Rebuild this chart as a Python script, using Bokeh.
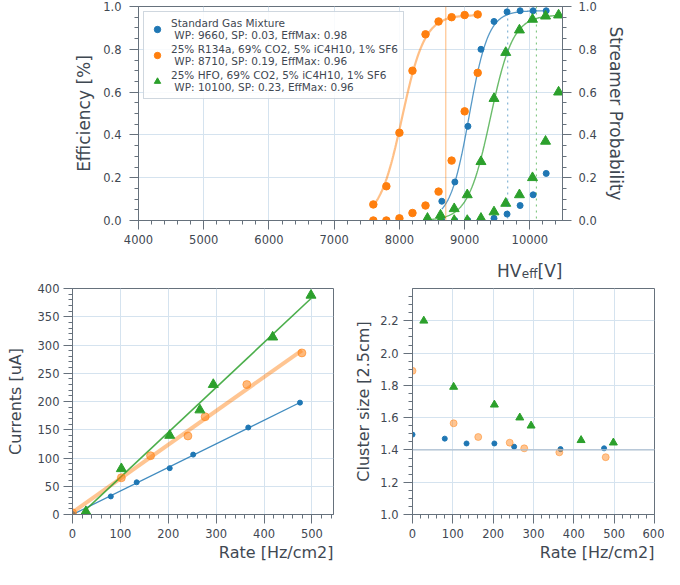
import numpy as np
from bokeh.plotting import figure
from bokeh.models import (LinearAxis, SingleIntervalTicker, NumeralTickFormatter,
                          Legend, LegendItem, Span, Label, Title)
from bokeh.layouts import column, row
from bokeh.embed import file_html
from bokeh.resources import INLINE

# ---------------- data: efficiency / streamer scans ----------------
hv_std = [8650, 8850, 9050, 9250, 9450, 9650, 9850, 10050, 10250]
eff_std = [0.09, 0.18, 0.44, 0.80, 0.93, 0.975, 0.98, 0.98, 0.98]
sp_std = [0.0, 0.0, 0.0, 0.0, 0.01, 0.03, 0.07, 0.12, 0.22]

hv_r134 = [7600, 7800, 8000, 8200, 8400, 8600, 8800, 9000, 9200]
eff_r134 = [0.075, 0.16, 0.41, 0.70, 0.87, 0.93, 0.95, 0.96, 0.963]
sp_r134 = [0.0, 0.0, 0.01, 0.035, 0.07, 0.135, 0.28, 0.51, 0.69]

hv_hfo = [8430, 8630, 8840, 9040, 9250, 9450, 9630, 9840, 10040, 10240, 10440]
eff_hfo = [0.01, 0.025, 0.055, 0.12, 0.275, 0.57, 0.785, 0.89, 0.94, 0.955, 0.96]
sp_hfo = [0.0, 0.0, 0.0, 0.0, 0.01, 0.04, 0.08, 0.12, 0.20, 0.37, 0.60]

mix_names = ["Standard Gas Mixture",
             "25% R134a, 69% CO2, 5% iC4H10, 1% SF6",
             "25% HFO, 69% CO2, 5% iC4H10, 1% SF6"]
wp_vals = [9660, 8710, 10100]
sp_at_wp = [0.03, 0.19, 0.23]
eff_max = [0.98, 0.96, 0.96]
hv50_fit = [9070, 8040, 9395]
lambda_fit = [0.0068, 0.00576, 0.0058]

# ---------------- data: rate scans ----------------
rate_std = [0, 80, 134, 203, 252, 367, 475]
cur_std = [1, 32, 57, 82, 106, 154, 198]
cs_std = [1.495, 1.47, 1.44, 1.44, 1.42, 1.405, 1.41]

rate_r134 = [0, 102, 163, 241, 277, 364, 479]
cur_r134 = [3, 65, 104, 139, 173, 230, 286]
cs_r134 = [1.89, 1.565, 1.48, 1.445, 1.41, 1.385, 1.355]

rate_hfo = [28, 102, 203, 266, 294, 418, 498]
cur_hfo = [5, 81, 140, 185, 230, 314, 388]
cs_hfo = [2.2, 1.79, 1.68, 1.6, 1.55, 1.46, 1.445]

BLUE, ORANGE, GREEN = "#1f77b4", "#ff7f0e", "#2ca02c"
FONT = "DejaVu Sans"
TXT = "#3f4852"
SPINE = "#66717c"
GRID = "#d5e3ef"


def style(p):
    p.background_fill_color = "white"
    p.border_fill_color = "white"
    p.outline_line_color = SPINE
    p.outline_line_width = 1
    p.xgrid.grid_line_color = GRID
    p.ygrid.grid_line_color = GRID
    for ax in p.axis:
        ax.axis_line_color = SPINE
        ax.major_tick_line_color = SPINE
        ax.minor_tick_line_color = SPINE
        ax.major_tick_out = 9
        ax.major_tick_in = 0
        ax.minor_tick_out = 4
        ax.minor_tick_in = 0
        ax.major_label_text_font = FONT
        ax.major_label_text_font_size = "11.5px"
        ax.major_label_text_color = TXT
        ax.axis_label_text_font = FONT
        ax.axis_label_text_font_style = "normal"
        ax.axis_label_text_color = TXT


def xtitle(p, text):
    t = Title(text=text, align="right", text_font=FONT, text_font_size="16px",
              text_font_style="normal", text_color=TXT, standoff=0, offset=0)
    p.add_layout(t, "below")


# ================= TOP FIGURE =================
TOP_W = 664
T_L, T_R, T_T, T_B = 138, 102, 6, 30
TOP_FRAME_H = 214
top = figure(width=TOP_W, height=T_T + TOP_FRAME_H + T_B,
             x_range=(4000, 10500), y_range=(0, 1),
             output_backend="svg", toolbar_location=None,
             min_border_left=T_L, min_border_right=T_R,
             min_border_top=T_T, min_border_bottom=T_B)
top.add_layout(LinearAxis(), "right")
style(top)
top.xaxis.ticker = SingleIntervalTicker(interval=1000, num_minor_ticks=5)
for ax in top.yaxis:
    ax.ticker = SingleIntervalTicker(interval=0.2, num_minor_ticks=4)
    ax.formatter = NumeralTickFormatter(format="0.0")
    ax.axis_label_text_font_size = "17px"
top.yaxis[0].axis_label = "Efficiency [%]"
top.yaxis[0].major_label_standoff = 8
top.yaxis[0].axis_label_standoff = 6
top.yaxis[1].axis_label = "Streamer Probability"
top.yaxis[1].major_label_standoff = 7
top.yaxis[1].axis_label_standoff = 6

colors = [BLUE, ORANGE, GREEN]
hvs = [hv_std, hv_r134, hv_hfo]
effs = [eff_std, eff_r134, eff_hfo]
sps = [sp_std, sp_r134, sp_hfo]
fit_w = [1.3, 2.2, 1.4]
fit_a = [0.75, 0.5, 0.7]
markers = ["circle", "circle", "triangle"]
msize = [6, 7.5, 10]
dashes = ["dotted", "solid", "dotted"]

# working-point lines
for i in range(3):
    top.add_layout(Span(location=wp_vals[i], dimension="height",
                        line_color=colors[i], line_alpha=0.4 if i == 1 else 0.6,
                        line_width=1.4 if i == 1 else 1.1, line_dash=dashes[i]))

eff_renderers = []
for i in range(3):
    x = np.linspace(min(hvs[i]), max(hvs[i]), 200)
    y = eff_max[i] / (1.0 + np.exp(-lambda_fit[i] * (x - hv50_fit[i])))
    top.line(x, y, line_color=colors[i], line_width=fit_w[i], line_alpha=fit_a[i])
for i in range(3):
    r = top.scatter(hvs[i], effs[i], marker=markers[i], size=msize[i],
                    fill_color=colors[i], line_color=colors[i])
    eff_renderers.append(r)
    top.scatter(hvs[i], sps[i], marker=markers[i], size=msize[i],
                fill_color=colors[i], line_color=colors[i])

items = []
for i in range(3):
    lab = f"{mix_names[i]}\n WP: {wp_vals[i]}, SP: {sp_at_wp[i]:.2f}, EffMax: {eff_max[i]:.2f}"
    items.append(LegendItem(label=lab, renderers=[eff_renderers[i]]))
legend = Legend(items=items, location="top_left", margin=5, padding=5, spacing=2,
                glyph_width=16, label_standoff=6,
                label_text_font=FONT, label_text_font_size="10.5px",
                label_text_color=TXT, border_line_color="#9fb0c0",
                background_fill_alpha=0.85)
top.add_layout(legend, "center")

# ---- strip holding the HV_eff[V] axis title (sub-script needs separate texts) ----
LBL_H = 30
lbl = figure(width=TOP_W, height=LBL_H, x_range=top.x_range, y_range=(0, LBL_H),
             output_backend="svg", toolbar_location=None,
             x_axis_type=None, y_axis_type=None,
             min_border_left=T_L, min_border_right=T_R,
             min_border_top=0, min_border_bottom=0)
lbl.outline_line_color = None
lbl.grid.visible = False
lbl.background_fill_color = "white"
lbl.border_fill_color = "white"
xr = top.x_range.end
lbl.add_layout(Label(x=xr, y=10, text="[V]", text_align="right",
                     text_baseline="alphabetic", text_font=FONT,
                     text_font_size="17px", text_color=TXT))
lbl.add_layout(Label(x=xr, y=7, x_offset=-25, text="eff", text_align="right",
                     text_baseline="alphabetic", text_font=FONT,
                     text_font_size="12px", text_color=TXT))
lbl.add_layout(Label(x=xr, y=10, x_offset=-41, text="HV", text_align="right",
                     text_baseline="alphabetic", text_font=FONT,
                     text_font_size="17px", text_color=TXT))

# ================= BOTTOM LEFT =================
B_T, B_FRAME_H, B_B = 8, 226, 55
B_H = B_T + B_FRAME_H + B_B
bl = figure(width=340, height=B_H, x_range=(0, 545), y_range=(0, 400),
            output_backend="svg", toolbar_location=None,
            min_border_left=72, min_border_right=7,
            min_border_top=B_T, min_border_bottom=B_B)
style(bl)
bl.xaxis.ticker = SingleIntervalTicker(interval=100, num_minor_ticks=5)
bl.yaxis.ticker = SingleIntervalTicker(interval=50, num_minor_ticks=5)
bl.yaxis.axis_label = "Currents [uA]"
bl.yaxis.axis_label_text_font_size = "16px"
bl.yaxis.major_label_standoff = 4
bl.yaxis.axis_label_standoff = 10
xtitle(bl, "Rate [Hz/cm2]")

rates = [rate_std, rate_r134, rate_hfo]
curs = [cur_std, cur_r134, cur_hfo]
lw = [1.3, 4, 1.6]
la = [0.85, 0.45, 0.85]
for i in range(3):
    k, b = np.polyfit(rates[i], curs[i], 1)
    xs = np.array([min(rates[i]), max(rates[i])])
    bl.line(xs, k * xs + b, line_color=colors[i], line_width=lw[i], line_alpha=la[i])
bsize = [5, 8, 10]
balpha = [1.0, 0.55, 1.0]
for i in range(3):
    bl.scatter(rates[i], curs[i], marker=markers[i], size=bsize[i],
               fill_color=colors[i], line_color=colors[i],
               fill_alpha=balpha[i], line_alpha=balpha[i])

# ================= BOTTOM RIGHT =================
br = figure(width=324, height=B_H, x_range=(0, 600), y_range=(1.0, 2.4),
            output_backend="svg", toolbar_location=None,
            min_border_left=72, min_border_right=10,
            min_border_top=B_T, min_border_bottom=B_B)
style(br)
br.xaxis.ticker = SingleIntervalTicker(interval=100, num_minor_ticks=5)
br.yaxis.ticker = SingleIntervalTicker(interval=0.2, num_minor_ticks=4)
br.yaxis.formatter = NumeralTickFormatter(format="0.0")
br.yaxis.axis_label = "Cluster size [2.5cm]"
br.yaxis.axis_label_text_font_size = "16px"
br.yaxis.major_label_standoff = 5
br.yaxis.axis_label_standoff = 4
br.add_layout(Span(location=1.4, dimension="width", line_color="#aebfd0", line_width=1.2))
xtitle(br, "Rate [Hz/cm2]")

css = [cs_std, cs_r134, cs_hfo]
csize = [5, 7, 8]
calpha = [1.0, 0.45, 1.0]
for i in range(3):
    br.scatter(rates[i], css[i], marker=markers[i], size=csize[i],
               fill_color=colors[i], line_color=colors[i],
               fill_alpha=calpha[i], line_alpha=calpha[i])

layout = column(top, lbl, row(bl, br))
open("out.html", "w").write(file_html(layout, INLINE))
